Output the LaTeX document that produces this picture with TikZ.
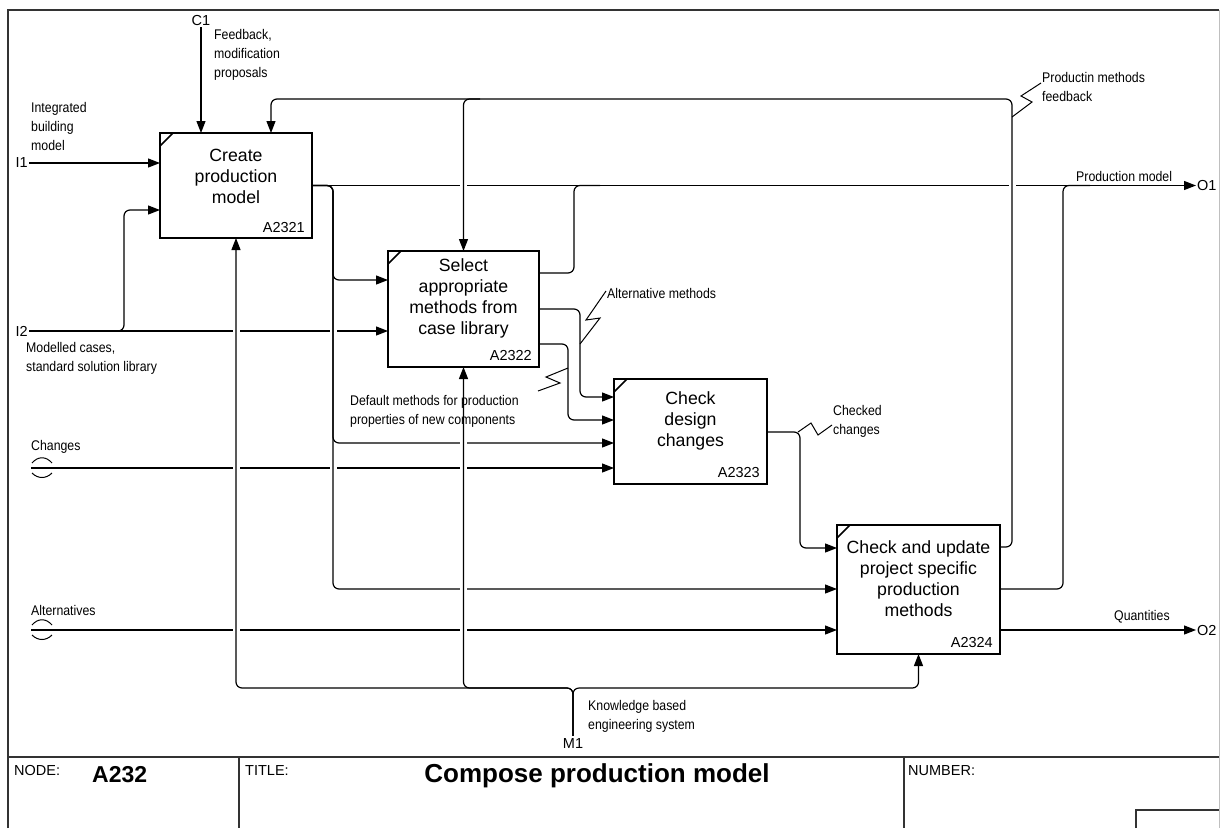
\documentclass[tikz,border=0pt]{standalone}
\usepackage{fontspec}
\setmainfont{Liberation Sans}
\newfontfamily\narrowfont[FakeStretch=0.88]{Liberation Sans}
\usetikzlibrary{arrows.meta,calc}

\begin{document}
\begin{tikzpicture}[x=1pt,y=-1pt,
  flow/.style={line width=1.2pt, rounded corners=6pt},
  arr/.style={flow, -{Triangle[length=12pt,width=9pt]}},
  box/.style={draw, line width=2.4pt, inner sep=0pt, outer sep=0pt},
  boxtext/.style={font=\fontsize{17.7}{21}\selectfont, align=center, inner sep=0pt},
  idlabel/.style={font=\fontsize{14.5}{16}\selectfont, anchor=base east, inner sep=0pt},
  lbl/.style={font=\narrowfont\fontsize{14}{19}\selectfont, align=left, anchor=north west, inner sep=0pt},
  port/.style={font=\fontsize{14.5}{16}\selectfont, inner sep=1pt},
  squiggle/.style={line width=1pt},
  tunnel/.style={line width=1pt},
  frameline/.style={line width=1.2pt, black!80},
  headtext/.style={font=\fontsize{14.5}{16}\selectfont, anchor=north west, inner sep=0pt},
  gapmark/.style={fill=white, draw=none}]

\useasboundingbox (0,0) rectangle (1221,828);

% sheet frame and title block
\draw[frameline] (8,828) -- (8,10) -- (1219,10);
\draw[black!25, line width=1pt] (1219,10) -- (1219,828);
\draw[frameline] (8,757) -- (1219,757);
\draw[frameline] (239,757) -- (239,828);
\draw[frameline] (904,757) -- (904,828);
\draw[frameline] (1136,828) -- (1136,810) -- (1219,810);
\node[headtext] (nodehead) at (14,765) {NODE:};
\node[font=\bfseries\fontsize{23}{25}\selectfont, anchor=west, inner sep=0pt] (nodeid) at (92,775) {A232};
\node[headtext] (titlehead) at (245,765) {TITLE:};
\node[font=\bfseries\fontsize{26}{28}\selectfont, anchor=base, inner sep=0pt] (titletext) at (597,782) {Compose production model};
\node[headtext] (numberhead) at (908,765) {NUMBER:};

% activity boxes
\node[box, minimum width=152pt, minimum height=105pt] (b1) at (236,185.5) {};
\node[box, minimum width=151pt, minimum height=116pt] (b2) at (463.5,309) {};
\node[box, minimum width=153pt, minimum height=105pt] (b3) at (690.5,431.5) {};
\node[box, minimum width=163pt, minimum height=129pt] (b4) at (918.5,589.5) {};
\foreach \b in {b1,b2,b3,b4}
  \draw[line width=1.5pt] ([yshift=-13pt]\b.north west) -- ([xshift=13pt]\b.north west);

\node[boxtext] (b1t) at ([yshift=9.5pt]b1.center) {Create\\production\\model};
\node[boxtext] (b2t) at ([yshift=11pt]b2.center) {Select\\appropriate\\methods from\\case library};
\node[boxtext] (b3t) at ([yshift=10.5pt]b3.center) {Check\\design\\changes};
\node[boxtext] (b4t) at ([yshift=11pt]b4.center) {Check and update\\project specific\\production\\methods};

\node[idlabel] (b1id) at ([xshift=-7pt,yshift=6pt]b1.south east) {A2321};
\node[idlabel] (b2id) at ([xshift=-7pt,yshift=7pt]b2.south east) {A2322};
\node[idlabel] (b3id) at ([xshift=-7pt,yshift=7pt]b3.south east) {A2323};
\node[idlabel] (b4id) at ([xshift=-7pt,yshift=7pt]b4.south east) {A2324};

% boundary ports
\node[port] (c1) at (201,21) {C1};
\node[port, anchor=east] (i1) at (29,163) {I1};
\node[port, anchor=east] (i2) at (29,331) {I2};
\node[port, anchor=west] (o1) at (1196,185.5) {O1};
\node[port, anchor=west] (o2) at (1196,630) {O2};
\node[port, inner sep=3pt] (m1) at (573,744) {M1};
\coordinate (chg) at (31,468);
\coordinate (alt) at (31,630);

% arrow labels
\node[lbl] (lc1) at (214,29) {Feedback,\\modification\\proposals};
\node[lbl] (li1) at (31,102) {Integrated\\building\\model};
\node[lbl] (li2) at (26,342) {Modelled cases,\\standard solution library};
\node[lbl] (lchg) at (31,440) {Changes};
\node[lbl] (lalt) at (31,605) {Alternatives};
\node[lbl] (lam) at (607,288) {Alternative methods};
\node[lbl] (ldm) at (350,395) {Default methods for production\\properties of new components};
\node[lbl] (lcc) at (833,405) {Checked\\changes};
\node[lbl] (lpf) at (1042,72) {Productin methods\\feedback};
\node[lbl] (lo1) at (1076,171) {Production model};
\node[lbl] (lo2) at (1114,610) {Quantities};
\node[lbl] (lm1) at (588,700) {Knowledge based\\engineering system};

% tunnelled arrows
\draw[tunnel] (32,463) .. controls (38,456) and (46,456) .. (52,463);
\draw[tunnel] (32,473) .. controls (38,479) and (46,479) .. (52,473);
\draw[tunnel] (32,625) .. controls (38,618) and (46,618) .. (52,625);
\draw[tunnel] (32,635) .. controls (38,641) and (46,641) .. (52,635);

% long horizontal flows
\draw[arr] (c1.south) -- (c1.south |- b1.north);
\draw[arr] (i1.east) -- (i1.east -| b1.west);
\draw[arr] (i2.east) -- (i2.east -| b2.west);
\draw[arr] (i2.east) -| (124,210) -- (b1.west |- 124,210);
\draw[arr] (b1.east) -- (o1.west);
\draw[arr] (chg) -- (chg -| b3.west);
\draw[arr] (alt) -- (alt -| b4.west);

% breaks where vertical flows pass
\foreach \x/\y in {236/331,333/331,236/468,333/468,463.5/468,463.5/185.5,1012/185.5,236/630,463.5/630}
  \fill[gapmark] (\x-3.5,\y-2.2) rectangle (\x+3.5,\y+2.2);

% production model fanned out from A2321
\draw[arr] (b1.east) -| (333,280) -- (b2.west |- 333,280);
\draw[arr] (b1.east) -| (333,443) -- (b3.west |- 333,443);
\draw[arr] (b1.east) -| (333,589) -- (b4.west |- 333,589);

\foreach \x/\y in {463.5/443,463.5/589}
  \fill[gapmark] (\x-3.5,\y-2.2) rectangle (\x+3.5,\y+2.2);

% outputs of A2322
\draw[flow] (b2.east |- 0,273) -| (574,185.5) -- (600,185.5);
\draw[arr] (b2.east |- 0,309) -| (580,397) -- (b3.west |- 0,397);
\draw[arr] (b2.east |- 0,344) -| (568,420) -- (b3.west |- 0,420);

% output of A2323
\draw[arr] (b3.east |- 0,432) -| (800,548) -- (b4.west |- 0,548);

% outputs of A2324
\draw[flow] (b4.east |- 0,589) -| (1063,185.5) -- (1090,185.5);
\draw[arr] (b4.east |- 0,630) -- (o2.west);
\draw[arr] (b4.east |- 0,547) -| (1012,99) -- (271,99) -- (b1.north -| 271,0);
\draw[arr] (480,99) -| (b2.north);

% mechanism
\draw[arr] (m1.north) |- (b1.south |- 0,688) -- (b1.south);
\draw[arr] (m1.north) |- (b2.south |- 0,688) -- (b2.south);
\draw[arr] (m1.north) |- (b4.south |- 0,688) -- (b4.south);

% label squiggles
\draw[squiggle] (606,291) -- (586,320) -- (600,318) -- (580,344);
\draw[squiggle] (568,368) -- (546,377) -- (560,383) -- (538,391);
\draw[squiggle] (798,432) -- (811,423) -- (818,435) -- (832,425);
\draw[squiggle] (1012,117) -- (1032,102) -- (1021,96) -- (1041,83);
\end{tikzpicture}
\end{document}
